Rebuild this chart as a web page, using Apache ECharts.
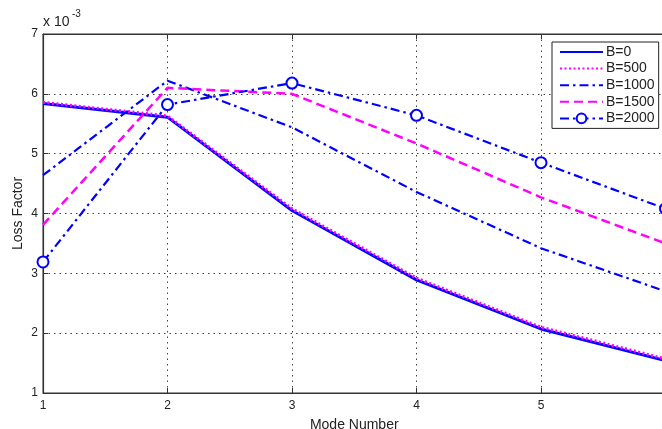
<!DOCTYPE html>
<html>
<head>
<meta charset="utf-8">
<script src="https://cdn.jsdelivr.net/npm/echarts@6/dist/echarts.min.js"></script>
<style>html,body{margin:0;padding:0;background:#fff;}#c{width:662px;height:429px;}</style>
</head>
<body>
<div id="c"></div>
<script>
const modes = [1, 2, 3, 4, 5, 6];
const seriesNames = ['B=0', 'B=500', 'B=1000', 'B=1500', 'B=2000'];
const b0    = [5.84, 5.61, 4.05, 2.89, 2.07, 1.54];
const b500  = [5.86, 5.63, 4.08, 2.92, 2.10, 1.57];
const b1000 = [4.64, 6.22, 5.44, 4.36, 3.42, 2.70];
const b1500 = [3.81, 6.10, 6.00, 5.17, 4.27, 3.50];
const b2000 = [3.19, 5.82, 6.18, 5.64, 4.85, 4.08];
const yTicks = [1, 2, 3, 4, 5, 6, 7];

const BLUE = '#0000ff', MAG = '#ff00ff';
const font = 'Liberation Sans, Arial, Helvetica, sans-serif';
const pair = arr => arr.map((v, i) => [modes[i], v]);
const noSym = {color: 'rgba(0,0,0,0)', borderColor: 'rgba(0,0,0,0)', borderWidth: 0};

const chart = echarts.init(document.getElementById('c'), null, {renderer: 'canvas'});
const gridStyle = {show: true, lineStyle: {color: '#444', type: [1.5, 4], width: 1}};
chart.setOption({
  animation: false,
  backgroundColor: '#fff',
  textStyle: {fontFamily: font},
  grid: {left: 43, top: 34, width: 622.5, height: 359, show: true, borderColor: '#333', borderWidth: 1,
         containLabel: false, outerBoundsMode: 'none'},
  graphic: [
    {type: 'text', left: 43, top: 15, style: {text: 'x 10', font: '14px ' + font, fill: '#222'}},
    {type: 'text', left: 72, top: 9, style: {text: '-3', font: '10px ' + font, fill: '#222'}}
  ],
  legend: {
    orient: 'vertical', left: 552, top: 42,
    data: [
      {name: 'B=0', itemStyle: noSym},
      {name: 'B=500', itemStyle: noSym},
      {name: 'B=1000', itemStyle: noSym},
      {name: 'B=1500', itemStyle: noSym},
      {name: 'B=2000'}
    ],
    itemWidth: 43, itemHeight: 12, itemGap: 2.6,
    padding: [3, 4, 3, 7],
    borderColor: '#222', borderWidth: 1, backgroundColor: '#fff',
    textStyle: {fontSize: 14, color: '#222', fontFamily: font, padding: [0, 0, 0, -2]}
  },
  xAxis: [{
    type: 'value', min: 1, max: 6, interval: 1,
    name: 'Mode Number', nameLocation: 'middle', nameGap: 25, nameMoveOverlap: false,
    nameTextStyle: {fontSize: 14, color: '#222'},
    axisLine: {show: true, onZero: false, lineStyle: {color: '#333', width: 1.2}},
    axisTick: {show: true, inside: true, length: 5, lineStyle: {color: '#333'}},
    axisLabel: {fontSize: 12, color: '#222', margin: 7, formatter: v => String(v)},
    splitLine: gridStyle
  }, {
    type: 'value', min: 1, max: 6, interval: 1, position: 'top',
    axisLine: {show: true, onZero: false, lineStyle: {color: '#333', width: 1}},
    axisTick: {show: true, inside: true, length: 5, lineStyle: {color: '#333'}},
    axisLabel: {show: false}, splitLine: {show: false}
  }],
  yAxis: [{
    type: 'value', min: 1, max: 7, interval: 1,
    name: 'Loss Factor', nameLocation: 'middle', nameGap: 18, nameMoveOverlap: false,
    nameTextStyle: {fontSize: 14, color: '#222'},
    axisLine: {show: true, onZero: false, lineStyle: {color: '#333', width: 1.2}},
    axisTick: {show: true, inside: true, length: 5, lineStyle: {color: '#333'}},
    axisLabel: {fontSize: 12, color: '#222', margin: 5, formatter: v => yTicks.includes(v) ? String(v) : ''},
    splitLine: gridStyle
  }],
  series: [
    {name: 'B=0', type: 'line', data: pair(b0), symbol: 'none', color: BLUE,
     lineStyle: {color: BLUE, width: 3, type: 'solid'}},
    {name: 'B=500', type: 'line', data: pair(b500), symbol: 'none', color: MAG,
     lineStyle: {color: MAG, width: 3, type: [2, 2.5]}},
    {name: 'B=1000', type: 'line', data: pair(b1000), symbol: 'none', color: BLUE,
     lineStyle: {color: BLUE, width: 2.2, type: [9, 4, 2.5, 4]}},
    {name: 'B=1500', type: 'line', data: pair(b1500), symbol: 'none', color: MAG,
     lineStyle: {color: MAG, width: 2.5, type: [9, 5]}},
    {name: 'B=2000', type: 'line', data: pair(b2000), symbol: 'emptyCircle', symbolSize: 11, color: BLUE,
     itemStyle: {color: BLUE, borderColor: BLUE, borderWidth: 2},
     lineStyle: {color: BLUE, width: 2.2, type: [9, 4, 2.5, 4]}}
  ]
});
</script>
</body>
</html>
